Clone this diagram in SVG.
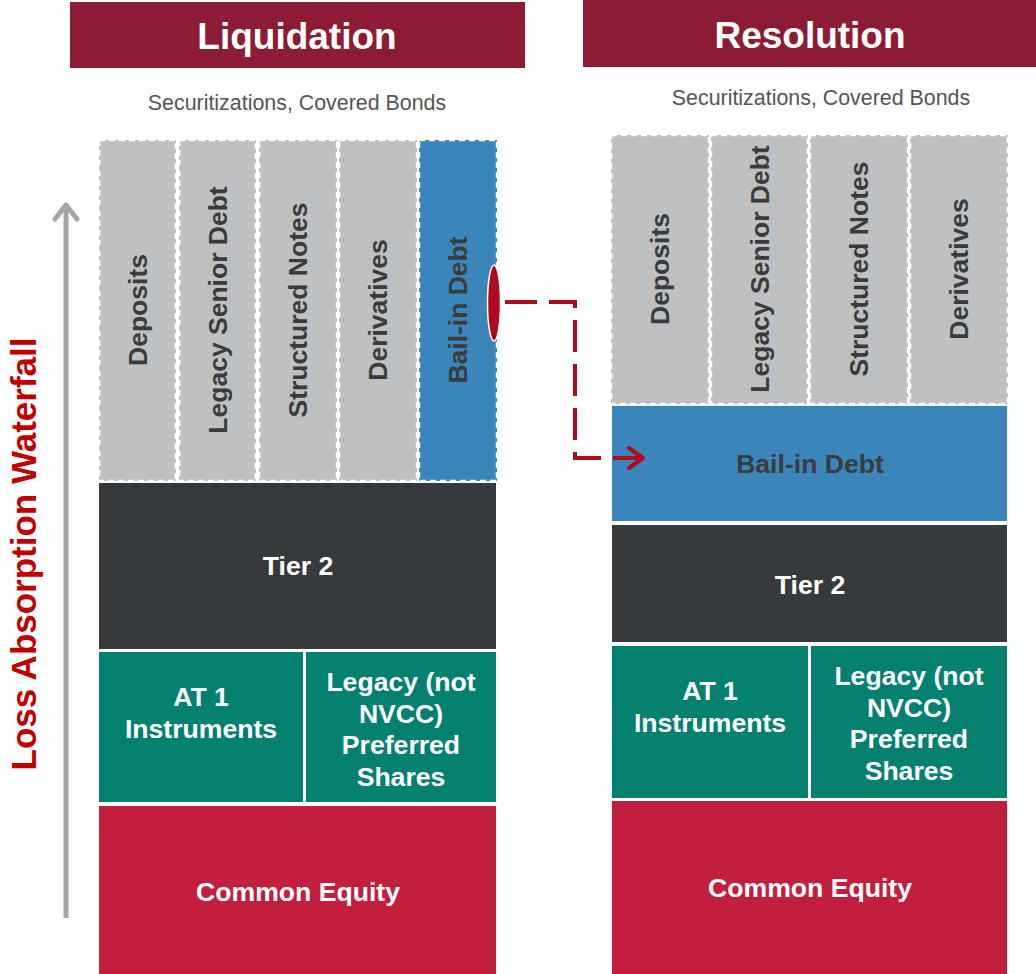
<svg xmlns="http://www.w3.org/2000/svg" width="1036" height="974" viewBox="0 0 1036 974">
<style>
.hdr{fill:#8C1B34}
.ttl{font-family:"Liberation Sans",Arial,sans-serif;font-weight:bold;font-size:37px;fill:#fff;text-anchor:middle}
.sub{font-family:"Liberation Sans",Arial,sans-serif;font-size:21.4px;fill:#555;text-anchor:middle}
.col{fill:#BFC0C2;stroke:#fff;stroke-width:2.5;stroke-dasharray:6 4}
.colb{fill:#3A85B9;stroke:#fff;stroke-width:2.5;stroke-dasharray:6 4}
.vl{font-family:"Liberation Sans",Arial,sans-serif;font-weight:bold;font-size:26.5px;fill:#3A3B3D;text-anchor:middle}
.lbl{font-family:"Liberation Sans",Arial,sans-serif;font-weight:bold;font-size:26.6px;fill:#fff;text-anchor:middle}
.lbld{font-family:"Liberation Sans",Arial,sans-serif;font-weight:bold;font-size:26.6px;fill:#3A3B3D;text-anchor:middle}
.t2{fill:#373A3D;stroke:#fff;stroke-width:2}
.at{fill:#04806F;stroke:#fff;stroke-width:2}
.ce{fill:#C21F3E;stroke:#fff;stroke-width:2}
.blue{fill:#3A85B9;stroke:#fff;stroke-width:2}
</style>
<rect width="1036" height="974" fill="#fff"/>

<g id="hdr-liquidation">
<rect class="hdr" x="70" y="2" width="455" height="66"/>
<text class="ttl" x="297" y="49">Liquidation</text>
</g>
<g id="hdr-resolution">
<rect class="hdr" x="583" y="0" width="453" height="67"/>
<text class="ttl" x="810" y="48">Resolution</text>
</g>
<text class="sub" x="297" y="110">Securitizations, Covered Bonds</text>
<text class="sub" x="821" y="105">Securitizations, Covered Bonds</text>

<g id="waterfall">
<line x1="66" y1="918" x2="66" y2="207" stroke="#A6A6A6" stroke-width="5"/>
<polyline points="55,219 66,205 77,219" fill="none" stroke="#A6A6A6" stroke-width="5" stroke-linecap="round" stroke-linejoin="round"/>
<text transform="translate(24,554) rotate(-90)" y="12" font-family="Liberation Sans, Arial, sans-serif" font-weight="bold" font-size="35" fill="#C00000" text-anchor="middle">Loss Absorption Waterfall</text>
</g>

<!-- Liquidation stack -->
<g id="l-deposits"><rect class="col" x="99" y="140" width="77" height="341"/><text class="vl" transform="translate(138,310) rotate(-90)" y="9">Deposits</text></g>
<g id="l-legacy"><rect class="col" x="179" y="140" width="77" height="341"/><text class="vl" transform="translate(218,310) rotate(-90)" y="9">Legacy Senior Debt</text></g>
<g id="l-structured"><rect class="col" x="259" y="140" width="78" height="341"/><text class="vl" transform="translate(298,310) rotate(-90)" y="9">Structured Notes</text></g>
<g id="l-derivatives"><rect class="col" x="339" y="140" width="78" height="341"/><text class="vl" transform="translate(378,310) rotate(-90)" y="9">Derivatives</text></g>
<g id="l-bailin"><rect class="colb" x="419" y="140" width="78" height="341"/><text class="vl" transform="translate(458,310) rotate(-90)" y="9">Bail-in Debt</text></g>
<g id="l-tier2"><rect class="t2" x="98" y="482" width="399" height="168"/><text class="lbl" x="298" y="575">Tier 2</text></g>
<g id="l-at1"><rect class="at" x="98" y="651" width="206" height="152"/><text class="lbl" x="201" y="706">AT 1</text><text class="lbl" x="201" y="738">Instruments</text></g>
<g id="l-legacypref"><rect class="at" x="305" y="651" width="192" height="152"/><text class="lbl" x="401" y="691">Legacy (not</text><text class="lbl" x="401" y="723">NVCC)</text><text class="lbl" x="401" y="754">Preferred</text><text class="lbl" x="401" y="786">Shares</text></g>
<g id="l-equity"><rect class="ce" x="98" y="805" width="399" height="171"/><text class="lbl" x="298" y="901">Common Equity</text></g>

<!-- Resolution stack -->
<g id="r-deposits"><rect class="col" x="611" y="135" width="98" height="269"/><text class="vl" transform="translate(660,269) rotate(-90)" y="9">Deposits</text></g>
<g id="r-legacy"><rect class="col" x="711" y="135" width="97" height="269"/><text class="vl" transform="translate(760,269) rotate(-90)" y="9">Legacy Senior Debt</text></g>
<g id="r-structured"><rect class="col" x="810" y="135" width="98" height="269"/><text class="vl" transform="translate(859,269) rotate(-90)" y="9">Structured Notes</text></g>
<g id="r-derivatives"><rect class="col" x="910" y="135" width="98" height="269"/><text class="vl" transform="translate(959,269) rotate(-90)" y="9">Derivatives</text></g>
<g id="r-bailin"><rect class="blue" x="611" y="405" width="397" height="117"/><text class="lbld" x="810" y="473">Bail-in Debt</text></g>
<g id="r-tier2"><rect class="t2" x="611" y="524" width="397" height="119"/><text class="lbl" x="810" y="594">Tier 2</text></g>
<g id="r-at1"><rect class="at" x="611" y="645" width="198" height="154"/><text class="lbl" x="710" y="700">AT 1</text><text class="lbl" x="710" y="732">Instruments</text></g>
<g id="r-legacypref"><rect class="at" x="810" y="645" width="198" height="154"/><text class="lbl" x="909" y="685">Legacy (not</text><text class="lbl" x="909" y="717">NVCC)</text><text class="lbl" x="909" y="748">Preferred</text><text class="lbl" x="909" y="780">Shares</text></g>
<g id="r-equity"><rect class="ce" x="611" y="800" width="397" height="176"/><text class="lbl" x="810" y="897">Common Equity</text></g>

<g id="connectors">
<ellipse cx="494" cy="303" rx="6.5" ry="38" fill="#B00A1E" stroke="#fff" stroke-width="1.5"/>
<path d="M505,302 H575 V458 H643" fill="none" stroke="#B00A1E" stroke-width="4" stroke-dasharray="32 12"/>
<polyline points="629,448 643,458 629,468" fill="none" stroke="#B00A1E" stroke-width="4" stroke-linecap="round" stroke-linejoin="round"/>
</g>
</svg>
